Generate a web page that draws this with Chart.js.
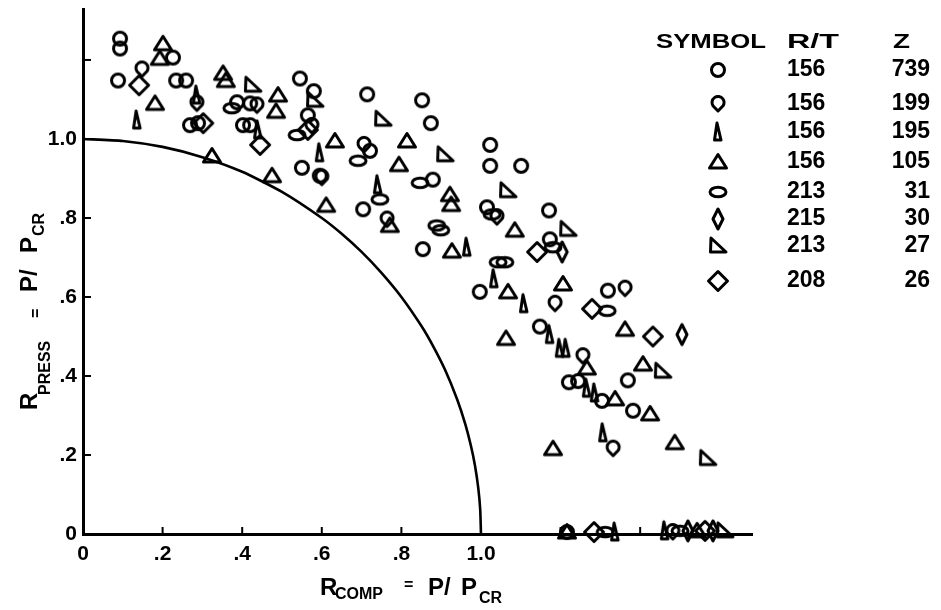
<!DOCTYPE html>
<html lang="en">
<head>
<meta charset="UTF-8">
<title>R PRESS vs R COMP</title>
<style>
  body { margin: 0; background: #fff; }
  canvas { display: block; }
</style>
<script src="https://cdn.jsdelivr.net/npm/chart.js"></script>
</head>
<body>
<canvas id="grafico" width="941" height="610"></canvas>
<script>
// ---- datos: [R_COMP, R_PRESS] ----
const rt156z739 = [[.093,1.254],[.093,1.229],[.088,1.148],[.226,1.206],[.234,1.148],[.259,1.148],
  [.269,1.035],[.289,1.040],[.387,1.093],[.420,1.090],[.402,1.035],[.420,1.035],[.545,1.153],
  [.580,1.121],[.565,1.060],[.550,.927],[.595,.907],[.714,1.113],[.721,.970],[.704,.822],
  [.852,1.098],[.874,1.040],[.879,.897],[.854,.721],[1.023,.985],[1.023,.932],[1.101,.932],
  [1.015,.827],[1.171,.819],[1.173,.746],[.997,.613],[1.148,.525],[1.221,.384],[1.244,.387],
  [1.304,.337],[1.319,.616],[1.369,.389],[1.382,.312],[1.216,.005]];
const rt156z199 = [[.148,1.176],[.286,1.090],[.437,1.085],[.575,1.033],[.600,.902],[.706,.985],
  [.764,.796],[1.040,.802],[1.186,.583],[1.256,.450],[1.332,.216],[1.362,.621],[1.482,.005]];
const rt156z195 = [[.136,1.048],[.286,1.111],[.440,1.023],[.595,.965],[.741,.884],[.965,.726],
  [1.033,.646],[1.108,.583],[1.173,.505],[1.198,.470],[1.214,.470],[1.266,.369],[1.286,.357],
  [1.307,.256],[1.337,.005],[1.462,.008]];
const rt156z105 = [[.201,1.241],[.193,1.204],[.181,1.090],[.352,1.166],[.359,1.148],[.490,1.111],
  [.485,1.070],[.324,.957],[.475,.907],[.611,.832],[.633,.995],[.794,.935],[.814,.995],[.771,.781],
  [.922,.859],[.925,.834],[.927,.716],[1.085,.769],[1.068,.613],[1.063,.495],[1.206,.633],
  [1.362,.518],[1.407,.430],[1.337,.342],[1.425,.304],[1.487,.231],[1.181,.216],[1.266,.420],
  [1.216,.005],[1.543,.008]];
const rt213z31 = [[.374,1.078],[.538,1.010],[.691,.945],[.746,.847],[.847,.889],[.889,.781],
  [.899,.769],[1.028,.809],[1.043,.688],[1.060,.688],[1.181,.726],[1.317,.565],[1.312,.005],[1.500,.008]];
const rt215z30 = [[1.204,.714],[1.505,.505],[1.520,.008],[1.583,.008]];
const rt213z27 = [[.427,1.136],[.583,1.098],[.754,1.050],[.910,.960],[1.068,.869],[1.219,.771],
  [1.457,.412],[1.570,.191],[1.613,.008]];
const rt208z26 = [[.141,1.136],[.302,1.040],[.445,.985],[.565,1.023],[1.141,.714],[1.279,.570],
  [1.432,.500],[1.284,.005],[1.563,.008]];

// curva de interaccion
const curvaX = [0, .1, .2, .3, .4, .5, .6, .65, .7, .75, .8, .85, .88, .91, .94, .96, .975, .985, .993, .998, 1.0];
const curvaY = [1.0, .995, .98, .954, .917, .866, .80, .76, .714, .661, .60, .527, .475, .415, .341, .28, .222, .173, .118, .063, 0];

// ejes
const ticksX = [0, .2, .4, .6, .8, 1.0];
const etiquetasX = ['0', '.2', '.4', '.6', '.8', '1.0'];
const ticksY = [0, .2, .4, .6, .8, 1.0];
const etiquetasY = ['0', '.2', '.4', '.6', '.8', '1.0'];
const marcasX = [.2, .4, .6, .8, 1.2, 1.4];
const marcasY = [.2, .4, .6, .8, 1.0, 1.2];

// tabla de simbolos
const valoresRT = ['156', '156', '156', '156', '213', '215', '213', '208'];
const valoresZ = ['739', '199', '195', '105', '31', '30', '27', '26'];

// ---- simbolos dibujados a mano ----
function crearSimbolo(trazar) {
    const c = document.createElement('canvas');
    c.width = 28; c.height = 28;
    const g = c.getContext('2d');
    g.translate(1, 1);
    g.strokeStyle = '#000';
    g.lineWidth = 3;
    g.lineJoin = 'round';
    g.beginPath();
    trazar(g);
    g.closePath();
    g.stroke();
    return c;
}
const simbolos = [
    crearSimbolo(g => g.arc(13, 13, 6.5, 0, Math.PI * 2)),
    crearSimbolo(g => { g.arc(13, 11.5, 6, Math.PI * 0.8, Math.PI * 0.2); g.lineTo(13, 20); }),
    crearSimbolo(g => { g.moveTo(12, 4); g.lineTo(16, 21); g.lineTo(9.5, 21); }),
    crearSimbolo(g => { g.moveTo(13, 5.5); g.lineTo(21.5, 19); g.lineTo(4.5, 19); }),
    crearSimbolo(g => g.ellipse(13, 13, 8, 4.8, 0, 0, Math.PI * 2)),
    crearSimbolo(g => { g.moveTo(13, 3); g.lineTo(18, 13); g.lineTo(13, 23); g.lineTo(8, 13); }),
    crearSimbolo(g => { g.moveTo(6, 5); g.lineTo(21, 19); g.lineTo(5.5, 19); }),
    crearSimbolo(g => { g.moveTo(13, 3.5); g.lineTo(22.5, 13); g.lineTo(13, 22.5); g.lineTo(3.5, 13); })
];

const series = [rt156z739, rt156z199, rt156z195, rt156z105, rt213z31, rt215z30, rt213z27, rt208z26];

const datasets = [{
    label: 'curva',
    data: curvaX.map((x, i) => ({ x: x, y: curvaY[i] })),
    showLine: true,
    borderColor: '#000',
    borderWidth: 2.6,
    pointRadius: 0,
    tension: 0.2,
    fill: false
}];
series.forEach((s, i) => {
    datasets.push({
        label: valoresRT[i] + '/' + valoresZ[i],
        data: s.map(p => ({ x: p[0], y: p[1] })),
        pointStyle: simbolos[i],
        pointRadius: 8,
        showLine: false,
        clip: false
    });
});

const fuente = 'Liberation Sans, Arial, sans-serif';

// texto estirado a un ancho dado
function textoAncho(ctx, t, x, y, ancho) {
    const w = ctx.measureText(t).width;
    ctx.save();
    ctx.translate(x, y);
    ctx.scale(ancho / w, 1);
    ctx.fillText(t, 0, 0);
    ctx.restore();
}

// marcas de los ejes, titulos y tabla
const decorado = {
    id: 'decorado',
    afterDraw(chart) {
        const ctx = chart.ctx;
        const xs = chart.scales.x, ys = chart.scales.y;
        const area = chart.chartArea;
        ctx.save();
        ctx.strokeStyle = '#000';
        ctx.lineWidth = 2;
        marcasX.forEach(v => {
            const px = xs.getPixelForValue(v);
            ctx.beginPath(); ctx.moveTo(px, area.bottom); ctx.lineTo(px, area.bottom - 7); ctx.stroke();
        });
        marcasY.forEach(v => {
            const py = ys.getPixelForValue(v);
            ctx.beginPath(); ctx.moveTo(area.left, py); ctx.lineTo(area.left + 8, py); ctx.stroke();
        });

        ctx.fillStyle = '#000';
        ctx.textBaseline = 'alphabetic';
        ctx.textAlign = 'left';
        const grande = 'bold 24px ' + fuente;
        const chica = 'bold 16px ' + fuente;

        // titulo eje x
        ctx.font = grande; ctx.fillText('R', 320, 595);
        ctx.font = chica; ctx.fillText('COMP', 335, 599);
        ctx.font = chica; ctx.fillText('=', 404, 590);
        ctx.font = grande; ctx.fillText('P/', 428, 595);
        ctx.font = grande; ctx.fillText('P', 461, 595);
        ctx.font = chica; ctx.fillText('CR', 479, 603);

        // titulo eje y
        ctx.save();
        ctx.translate(37, 410);
        ctx.rotate(-Math.PI / 2);
        ctx.font = grande; ctx.fillText('R', 0, 0);
        ctx.font = chica; ctx.fillText('PRESS', 15, 13);
        ctx.font = chica; ctx.fillText('=', 92, 4);
        ctx.font = grande; ctx.fillText('P/', 118, 0);
        ctx.font = grande; ctx.fillText('P', 157, 0);
        ctx.font = chica; ctx.fillText('CR', 174, 7);
        ctx.restore();

        // tabla de simbolos
        const filas = [70, 104, 132, 162, 192, 219, 246, 281];
        ctx.textBaseline = 'middle';
        ctx.font = 'bold 20px ' + fuente;
        textoAncho(ctx, 'SYMBOL', 656, 42, 110);
        textoAncho(ctx, 'R/T', 787, 42, 52);
        textoAncho(ctx, 'Z', 893, 42, 17);
        ctx.font = 'bold 23px ' + fuente;
        filas.forEach((fy, i) => {
            ctx.drawImage(simbolos[i], 718 - 14, fy - 14);
            ctx.textAlign = 'left';
            ctx.fillText(valoresRT[i], 787, fy);
            ctx.textAlign = 'right';
            ctx.fillText(valoresZ[i], 930, fy);
        });
        ctx.restore();
    }
};

const fuenteTicks = { family: fuente, size: 21, weight: 'bold' };
const ctx = document.getElementById('grafico').getContext('2d');
new Chart(ctx, {
    type: 'scatter',
    data: { datasets: datasets },
    options: {
        responsive: false,
        animation: false,
        layout: { padding: { top: 5, right: 189, left: 0, bottom: 0 } },
        plugins: { legend: { display: false }, tooltip: { enabled: false } },
        scales: {
            x: {
                type: 'linear',
                min: 0,
                max: 1.681,
                afterFit: s => { s.height = 76; s.paddingLeft = 0; s.paddingRight = 0; },
                afterBuildTicks: s => { s.ticks = ticksX.map(v => ({ value: v })); },
                ticks: { callback: (v, i) => etiquetasX[i], font: fuenteTicks, color: '#000', padding: 8, maxRotation: 0, autoSkip: false },
                grid: { display: true, drawOnChartArea: false, drawTicks: false },
                border: { display: true, color: '#000', width: 3 }
            },
            y: {
                type: 'linear',
                min: 0,
                max: 1.329,
                afterFit: s => { s.width = 83; s.paddingTop = 0; s.paddingBottom = 0; },
                afterBuildTicks: s => { s.ticks = ticksY.map(v => ({ value: v })); },
                ticks: { callback: (v, i) => etiquetasY[i], font: fuenteTicks, color: '#000', padding: 6, autoSkip: false },
                grid: { display: true, drawOnChartArea: false, drawTicks: false },
                border: { display: true, color: '#000', width: 3 }
            }
        }
    },
    plugins: [decorado]
});
</script>
</body>
</html>
